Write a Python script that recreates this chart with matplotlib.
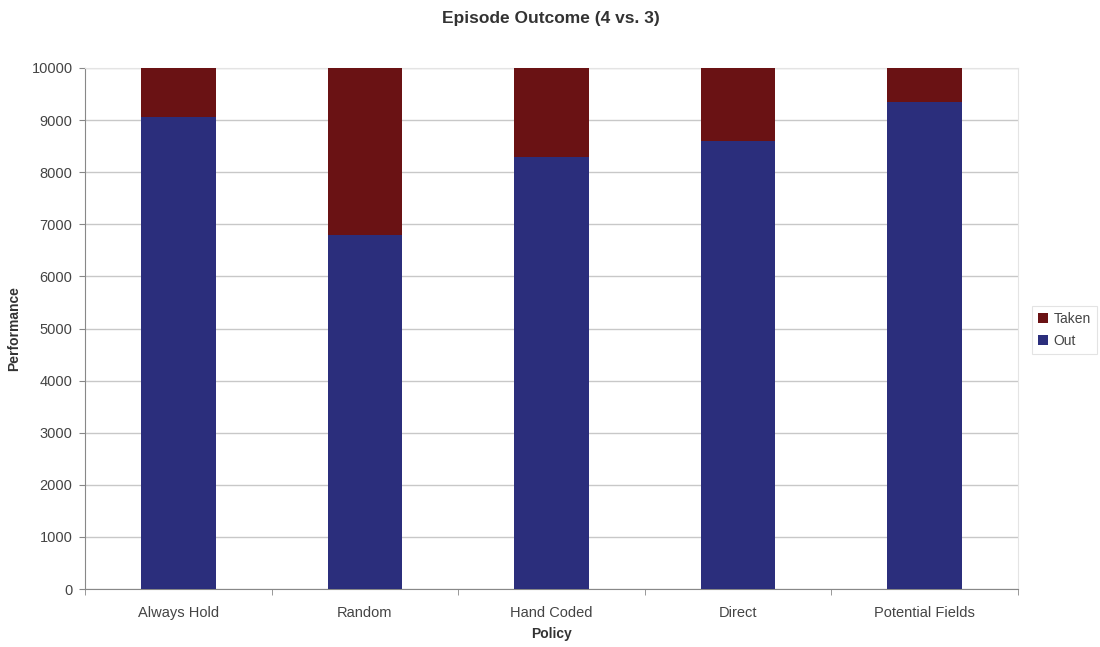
import matplotlib.pyplot as plt
import numpy as np

plt.rcParams['font.family'] = ['Liberation Sans', 'DejaVu Sans']

policies = ['Always Hold', 'Random', 'Hand Coded', 'Direct', 'Potential Fields']
out = [9060, 6790, 8300, 8600, 9340]
taken = [940, 3210, 1700, 1400, 660]

taken_color = '#6a1214'
out_color = '#2b2e7c'

fig = plt.figure(figsize=(11, 6.47), dpi=100)
ax = fig.add_axes([0.0773, 0.0896, 0.8482, 0.8053])

x = np.arange(len(policies))
b_out = ax.bar(x, out, width=0.4, color=out_color, label='Out', zorder=3)
b_taken = ax.bar(x, taken, width=0.4, bottom=out, color=taken_color, label='Taken', zorder=3)

ax.set_xlim(-0.5, len(policies) - 0.5)
ax.set_ylim(0, 10000)
ax.set_yticks(range(0, 10001, 1000))
ax.yaxis.grid(True, color='#c8c8c8', linewidth=1, zorder=0)

ax.set_xticks(x)
ax.set_xticklabels(policies)
ax.set_xticks(np.arange(-0.5, len(policies)), minor=True)
ax.tick_params(axis='x', which='major', length=0, pad=12, labelsize=10.5, labelcolor='#444444')
ax.tick_params(axis='x', which='minor', length=4, color='#888888', direction='out')
ax.tick_params(axis='y', length=4, color='#888888', labelsize=10.5, labelcolor='#444444', pad=5)

for side in ['left', 'bottom']:
    ax.spines[side].set_color('#888888')
    ax.spines[side].set_linewidth(0.8)
for side in ['top', 'right']:
    ax.spines[side].set_color('#e4e4e4')
    ax.spines[side].set_linewidth(0.8)

ax.set_xlabel('Policy', fontsize=10, fontweight='bold', color='#333333', labelpad=5)
ax.set_ylabel('Performance', fontsize=10, fontweight='bold', color='#333333')
ax.yaxis.set_label_coords(-0.068, 0.5)
fig.suptitle('Episode Outcome (4 vs. 3)', x=0.501, y=0.983, fontsize=12.5, fontweight='bold', color='#333333')

leg = fig.legend([b_taken, b_out], ['Taken', 'Out'], loc='center left',
                 bbox_to_anchor=(0.932, 0.49), fontsize=10, frameon=True,
                 fancybox=False, handlelength=0.7, handleheight=0.7,
                 handletextpad=0.4, borderpad=0.45, labelspacing=0.6)
leg.get_frame().set_edgecolor('#dddddd')
leg.get_frame().set_linewidth(0.8)
for t in leg.get_texts():
    t.set_color('#444444')

fig.savefig('out.png', dpi=100)
